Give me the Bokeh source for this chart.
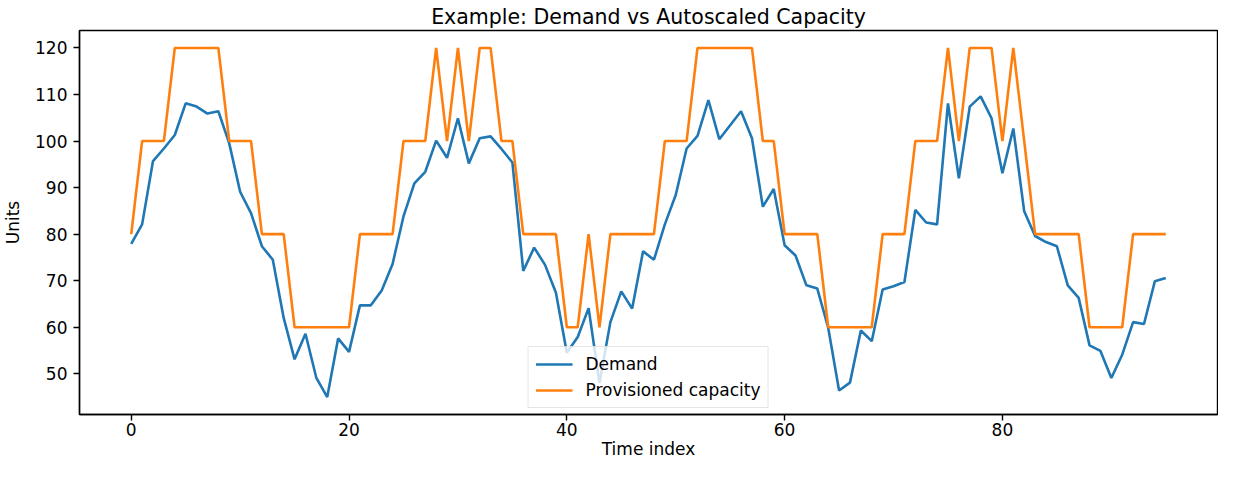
from bokeh.plotting import figure
from bokeh.models import Range1d, FixedTicker, Legend, LegendItem, ColumnDataSource
from bokeh.embed import file_html
from bokeh.resources import INLINE

time_index = list(range(96))
demand = [
    77.9, 82.1, 95.7, 98.4, 101.3, 108.1, 107.4, 105.9, 106.4, 99.5,
    89.1, 84.5, 77.4, 74.5, 62.0, 53.1, 58.6, 49.1, 45.0, 57.6,
    54.7, 64.7, 64.7, 67.9, 73.6, 83.8, 90.9, 93.4, 100.1, 96.4,
    104.9, 95.2, 100.6, 101.0, 98.3, 95.4, 72.1, 77.1, 73.4, 67.4,
    54.5, 57.9, 64.1, 48.0, 61.1, 67.7, 64.0, 76.3, 74.5, 82.1,
    88.4, 98.4, 101.1, 108.8, 100.4, 103.4, 106.4, 100.6, 85.9, 89.7,
    77.6, 75.4, 69.0, 68.3, 59.9, 46.4, 48.1, 59.3, 57.0, 68.1,
    68.8, 69.7, 85.2, 82.5, 82.1, 108.1, 92.0, 107.4, 109.6, 104.9,
    93.1, 102.7, 84.9, 79.6, 78.3, 77.4, 69.0, 66.3, 56.1, 54.9,
    49.1, 54.1, 61.1, 60.7, 69.9, 70.6,
]
capacity = [
    80, 100, 100, 100, 120, 120, 120, 120, 120, 100,
    100, 100, 80, 80, 80, 60, 60, 60, 60, 60,
    60, 80, 80, 80, 80, 100, 100, 100, 120, 100,
    120, 100, 120, 120, 100, 100, 80, 80, 80, 80,
    60, 60, 80, 60, 80, 80, 80, 80, 80, 100,
    100, 100, 120, 120, 120, 120, 120, 120, 100, 100,
    80, 80, 80, 80, 60, 60, 60, 60, 60, 80,
    80, 80, 100, 100, 100, 120, 100, 120, 120, 120,
    100, 120, 100, 80, 80, 80, 80, 80, 60, 60,
    60, 60, 80, 80, 80, 80,
]
x_ticks = [0, 20, 40, 60, 80]
y_ticks = [50, 60, 70, 80, 90, 100, 110, 120]

FONT = "DejaVu Sans"

src = ColumnDataSource(dict(t=time_index, demand=demand, capacity=capacity))

p = figure(
    width=1218, height=461,
    output_backend="svg", toolbar_location=None,
    x_range=Range1d(-4.75, 99.75), y_range=Range1d(41.25, 123.75),
    min_border_left=74, min_border_right=1, min_border_top=30, min_border_bottom=44,
    background_fill_color="white", border_fill_color="white",
)

p.title.text = "Example: Demand vs Autoscaled Capacity"
p.title.align = "center"
p.title.text_font = FONT
p.title.text_font_size = "20.5px"
p.title.text_font_style = "normal"
p.title.text_color = "black"
p.title.standoff = 4

p.xgrid.visible = False
p.ygrid.visible = False
p.outline_line_color = "black"
p.outline_line_width = 1.4
p.outline_line_alpha = 1.0

for ax in (p.xaxis[0], p.yaxis[0]):
    ax.axis_line_color = "black"
    ax.axis_line_width = 1.4
    ax.major_tick_line_color = "black"
    ax.major_tick_line_width = 1.4
    ax.major_tick_out = 6
    ax.major_tick_in = 0
    ax.minor_tick_line_color = None
    ax.major_label_text_font = FONT
    ax.major_label_text_font_size = "17px"
    ax.major_label_text_color = "black"
    ax.axis_label_text_font = FONT
    ax.axis_label_text_font_size = "17px"
    ax.axis_label_text_font_style = "normal"
    ax.axis_label_text_color = "black"

p.xaxis[0].major_label_standoff = 2
p.xaxis[0].axis_label_standoff = 0
p.yaxis[0].major_label_standoff = 6
p.yaxis[0].axis_label_standoff = 9

p.xaxis[0].ticker = FixedTicker(ticks=x_ticks)
p.yaxis[0].ticker = FixedTicker(ticks=y_ticks)
p.xaxis[0].axis_label = "Time index"
p.yaxis[0].axis_label = "Units"

r1 = p.line("t", "demand", source=src, line_color="#1f77b4", line_width=2.6)
r2 = p.line("t", "capacity", source=src, line_color="#ff7f0e", line_width=2.6)

legend = Legend(
    items=[LegendItem(label="Demand", renderers=[r1]),
           LegendItem(label="Provisioned capacity", renderers=[r2])],
    location="bottom_center",
)
legend.margin = 6
legend.padding = 7
legend.spacing = 6
legend.glyph_width = 37
legend.glyph_height = 20
legend.label_height = 20
legend.label_standoff = 13
legend.label_text_font = FONT
legend.label_text_font_size = "17px"
legend.label_text_color = "black"
legend.border_line_color = "#cccccc"
legend.border_line_width = 1
legend.background_fill_color = "white"
legend.background_fill_alpha = 0.8
p.add_layout(legend)

open("out.html", "w").write(file_html(p, INLINE))
